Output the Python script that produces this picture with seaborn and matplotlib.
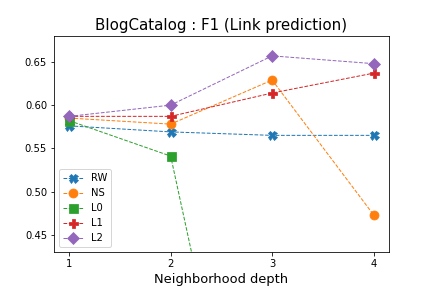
import matplotlib
matplotlib.use("Agg")
import matplotlib.pyplot as plt
import seaborn as sns
import pandas as pd

depth = [1, 2, 3, 4]
rw = [0.576, 0.569, 0.565, 0.565]
ns = [0.585, 0.578, 0.629, 0.473]
l0 = [0.582, 0.541, 0.0, 0.0]
l1 = [0.587, 0.587, 0.614, 0.637]
l2 = [0.587, 0.600, 0.657, 0.648]

series = [("RW", rw, "X"), ("NS", ns, "o"), ("L0", l0, "s"), ("L1", l1, "P"), ("L2", l2, "D")]
colors = sns.color_palette("tab10")

fig, ax = plt.subplots(figsize=(6, 4), dpi=72)
fig.subplots_adjust(left=0.125, right=0.9, bottom=0.125, top=0.875)
for i, (name, vals, mk) in enumerate(series):
    df = pd.DataFrame({"depth": depth, "val": vals})
    sns.lineplot(data=df, x="depth", y="val", ax=ax, color=colors[i], marker=mk,
                 markersize=9, linestyle="--", linewidth=1, label=name,
                 markeredgecolor=colors[i])

ax.set_ylim(0.43, 0.68)
ax.set_xticks(depth)
ax.set_yticks([0.45, 0.50, 0.55, 0.60, 0.65])
ax.set_xlabel("Neighborhood depth", fontsize=13)
ax.set_ylabel("")
ax.set_title("BlogCatalog : F1 (Link prediction)", fontsize=15)
ax.legend(loc="lower left")
fig.savefig("out.png", dpi=72)
